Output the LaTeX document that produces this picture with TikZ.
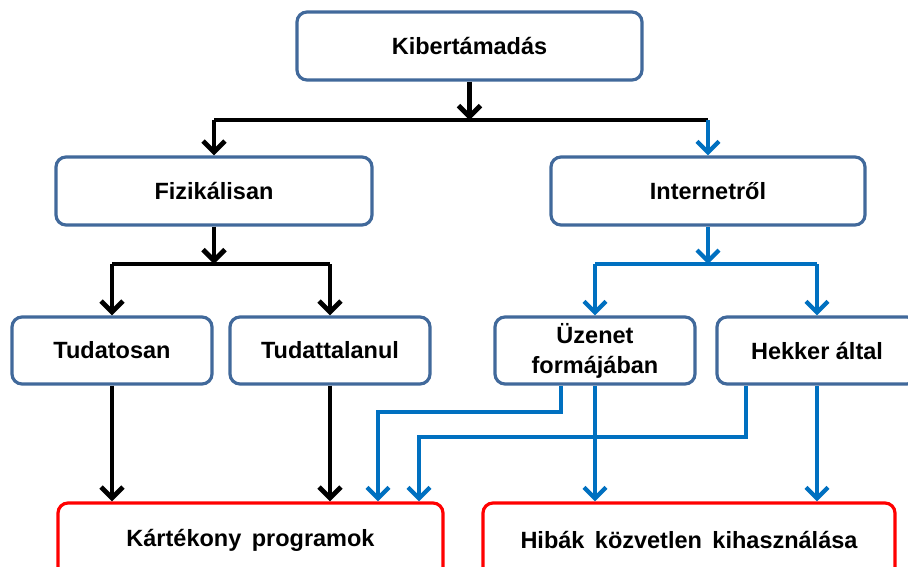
\documentclass[tikz,border=0pt]{standalone}
\usepackage{fontspec}
\setmainfont{Liberation Sans}
\usetikzlibrary{arrows.meta}
\definecolor{boxblue}{RGB}{65,105,155}
\definecolor{arrblue}{RGB}{0,112,192}
\definecolor{boxred}{RGB}{255,0,0}
\tikzset{
  box/.style={draw=boxblue, line width=3.2pt, rounded corners=10pt, fill=white,
    inner sep=0pt, align=center, font=\fontsize{23.5}{30}\selectfont\bfseries},
  redbox/.style={box, draw=boxred},
  blk/.style={draw=black, line width=4.8pt},
  blu/.style={draw=arrblue, line width=4.2pt},
  arr/.style={-{Straight Barb[length=11pt,width=22pt]}}
}
\begin{document}
\begin{tikzpicture}[x=1pt,y=-1pt]
\useasboundingbox (0,0) rectangle (908,566);
\fill[white] (0,0) rectangle (908,566);
\clip (0,0) rectangle (908,566);
% nodes
\node[box, minimum width=345pt, minimum height=68pt] (kib) at (469.5,46) {Kibertámadás};
\node[box, minimum width=316pt, minimum height=68pt] (fiz) at (214,191) {Fizikálisan};
\node[box, minimum width=314pt, minimum height=68pt] (int) at (708,191) {Internetről};
\node[box, minimum width=200pt, minimum height=67pt] (tud) at (112,350.5) {Tudatosan};
\node[box, minimum width=200pt, minimum height=67pt] (tut) at (330,350.5) {Tudattalanul};
\node[box, minimum width=200pt, minimum height=67pt] (uze) at (595,350.5) {Üzenet\\formájában};
\node[box, minimum width=200pt, minimum height=67pt] (hek) at (817,350.5) {Hekker által};
\node[redbox, minimum width=385pt, minimum height=74pt] (kar) at (250.5,540) {Kártékony\, programok};
\node[redbox, minimum width=412pt, minimum height=74pt] (hib) at (689,540) {Hibák\, közvetlen\, kihasználása};
% junctions
\coordinate (j1) at (469.5,120);
\coordinate (j2) at (214,264);
\coordinate (j3) at (708,264);
\coordinate (b1) at (561,412);
\coordinate (b2) at (746,437);
\coordinate (c1) at (378,412);
\coordinate (c2) at (419,437);
% level 1
\draw[blk, arr] (kib.south) -- (j1);
\draw[blk] (fiz.north |- j1) -- (int.north |- j1);
\draw[blk, arr] (fiz.north |- j1) -- (fiz.north);
\draw[blu, arr] (int.north |- j1) -- (int.north);
% level 2 left
\draw[blk, arr] (fiz.south) -- (j2);
\draw[blk] (tud.north |- j2) -- (tut.north |- j2);
\draw[blk, arr] (tud.north |- j2) -- (tud.north);
\draw[blk, arr] (tut.north |- j2) -- (tut.north);
% level 2 right
\draw[blu, arr] (int.south) -- (j3);
\draw[blu] (uze.north |- j3) -- (hek.north |- j3);
\draw[blu, arr] (uze.north |- j3) -- (uze.north);
\draw[blu, arr] (hek.north |- j3) -- (hek.north);
% level 3
\draw[blk, arr] (tud.south) -- (tud.south |- kar.north);
\draw[blk, arr] (tut.south) -- (tut.south |- kar.north);
\draw[blu, arr] (uze.south) -- (uze.south |- hib.north);
\draw[blu, arr] (hek.south) -- (hek.south |- hib.north);
\draw[blu, arr] (b1 |- uze.south) -- (b1) -- (c1) -- (c1 |- kar.north);
\draw[blu, arr] (b2 |- hek.south) -- (b2) -- (c2) -- (c2 |- kar.north);
\end{tikzpicture}
\end{document}
